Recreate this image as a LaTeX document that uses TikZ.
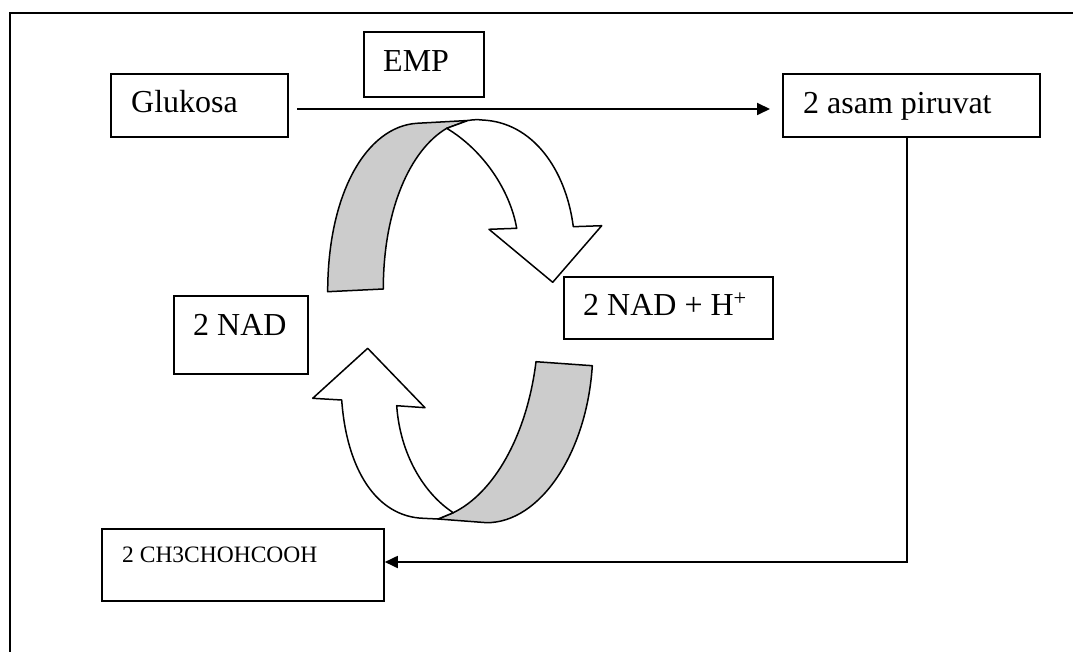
\documentclass[tikz,border=0pt]{standalone}
\usepackage{fontspec}
\setmainfont{Liberation Serif}
\usetikzlibrary{arrows.meta}
\tikzset{
  boxnode/.style={draw=black,line width=1.8pt,inner sep=0pt,anchor=north west},
  txt/.style={anchor=base west,inner sep=0pt,font=\fontsize{32}{36}\selectfont},
  smalltxt/.style={anchor=base west,inner sep=0pt,font=\fontsize{23.5}{26}\selectfont},
  flow/.style={line width=1.8pt,-{Triangle[length=13pt,width=12pt]}},
  ribbon/.style={draw=black,line width=1.5pt,line join=round},
  back/.style={ribbon,fill=black!20},
  front/.style={ribbon,fill=white}
}
\begin{document}
\begin{tikzpicture}[x=1pt,y=-1pt]
\useasboundingbox (0,0) rectangle (1073,652);
\begin{scope}
\clip (0,0) rectangle (1073,652);
\draw[line width=2.4pt] (10,13) rectangle (1090,670);
\end{scope}
% boxes
\node[boxnode,minimum width=177pt,minimum height=63pt] (glukosa) at (110,73) {};
\node[txt] (tglukosa) at (131,113) {Glukosa};
\node[boxnode,minimum width=120pt,minimum height=65pt] (emp) at (363,31) {};
\node[txt] (temp) at (383,72) {EMP};
\node[boxnode,minimum width=257pt,minimum height=63pt] (piruvat) at (782,73) {};
\node[txt] (tpiruvat) at (803,114) {2 asam piruvat};
\node[boxnode,minimum width=134pt,minimum height=78pt] (nad) at (173,295) {};
\node[txt] (tnad) at (193,335) {2 NAD};
\node[boxnode,minimum width=209pt,minimum height=62pt] (nadh) at (563,276) {};
\node[txt] (tnadh) at (583,315) {2 NAD + H\textsuperscript{+}};
\node[boxnode,minimum width=282pt,minimum height=72pt] (lactate) at (101,528) {};
\node[smalltxt] (tlactate) at (122,562) {2 CH3CHOHCOOH};
% connectors
\coordinate (start) at (297,109);
\draw[flow,shorten >=12pt] (start) -- (piruvat.west |- start);
\coordinate (corner) at (907,562);
\draw[flow] (piruvat.south -| corner) -- (corner) -- (lactate.east |- corner);
% top curved arrow: back (gray) part
\draw[back] (327.7,291.7) .. controls (327.7,193) and (366.7,126.7) .. (416.7,123.3)
  -- (468,120.5) -- (446.7,128.3)
  .. controls (410,150) and (383.3,210) .. (383.3,289) -- cycle;
% top curved arrow: front (white) part
\draw[front] (446.7,128.3) -- (468,120.5) .. controls (474,119.5) and (478,119.5) .. (482,120)
  .. controls (533,122) and (566,170) .. (573.3,226.7)
  -- (601.7,225.7) -- (552.7,282.3) -- (489,229.3) -- (516.7,228.3)
  .. controls (510,190) and (483,150) .. (446.7,128.3) -- cycle;
% bottom curved arrow: back (gray) part
\draw[back] (536,361.7) -- (592.3,365.7)
  .. controls (586.7,453.3) and (540,522.7) .. (486.7,522.7)
  -- (438,519) -- (453.3,512.7)
  .. controls (493.3,493.3) and (526.7,436.7) .. (536,361.7) -- cycle;
% bottom curved arrow: front (white) part
\draw[front] (453.3,512.7) -- (438,519) -- (423.3,518.3)
  .. controls (376.7,516.7) and (346.7,470) .. (341.7,400)
  -- (312.7,398.3) -- (367.7,348.3) -- (425,407.7) -- (396.7,405.7)
  .. controls (400,453.3) and (423.3,493.3) .. (453.3,512.7) -- cycle;
\end{tikzpicture}
\end{document}
